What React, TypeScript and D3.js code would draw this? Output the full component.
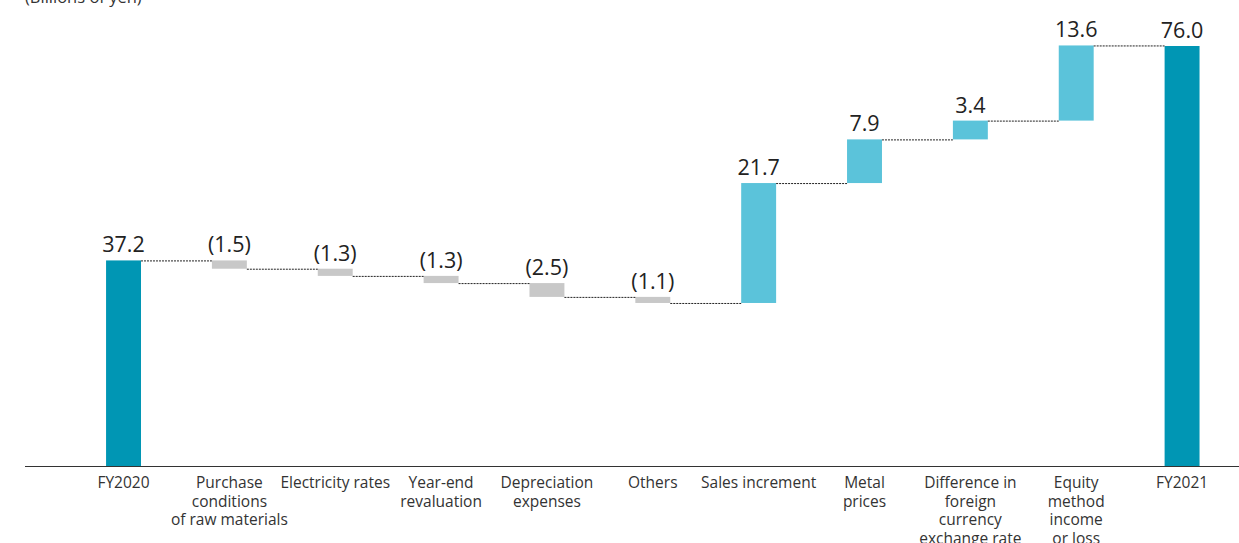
import React from "react";
import * as d3 from "d3";

const categories: string[][] = [
  ["FY2020"],
  ["Purchase", "conditions", "of raw materials"],
  ["Electricity rates"],
  ["Year-end", "revaluation"],
  ["Depreciation", "expenses"],
  ["Others"],
  ["Sales increment"],
  ["Metal", "prices"],
  ["Difference in", "foreign", "currency", "exchange rate"],
  ["Equity", "method", "income", "or loss"],
  ["FY2021"],
];
const values: number[] = [37.2, -1.5, -1.3, -1.3, -2.5, -1.1, 21.7, 7.9, 3.4, 13.6, 76.0];
const kinds: string[] = ["total", "delta", "delta", "delta", "delta", "delta", "delta", "delta", "delta", "delta", "total"];
const valueLabels: string[] = ["37.2", "(1.5)", "(1.3)", "(1.3)", "(2.5)", "(1.1)", "21.7", "7.9", "3.4", "13.6", "76.0"];
const unitLabel = "(Billions of yen)";

const W = 1239;
const H = 543;
const baseY = 466;
const topY = 46;

export default function App() {
  const x = d3
    .scaleBand<number>()
    .domain(d3.range(categories.length))
    .range([70.6, 1235.0])
    .paddingInner(0.67)
    .paddingOuter(0.335);
  const y = d3.scaleLinear().domain([0, 76]).range([baseY, topY]);

  let run = 0;
  const bars = values.map((v, i) => {
    let start: number, end: number;
    if (kinds[i] === "total") {
      start = 0;
      end = v;
      run = v;
    } else {
      start = run;
      end = run + v;
      run = end;
    }
    return { i, start, end, level: end, v };
  });

  const bw = x.bandwidth();
  const font = "'Open Sans', 'Noto Sans', sans-serif";

  return (
    <div style={{ position: "absolute", left: 0, top: 0 }}>
      <svg width={W} height={H} style={{ display: "block" }}>
        <text x={25} y={3} fontFamily={font} fontSize={16.5} fill="#333">
          {unitLabel}
        </text>
        {bars.map((b) => {
          const x0 = x(b.i)!;
          const yTop = y(Math.max(b.start, b.end));
          const yBot = y(Math.min(b.start, b.end));
          const color =
            kinds[b.i] === "total" ? "#0096b4" : b.v < 0 ? "#c8c8c8" : "#5bc3da";
          return (
            <g key={b.i}>
              <rect x={x0} y={yTop} width={bw} height={Math.max(yBot - yTop, 0)} fill={color} />
              <text
                x={x0 + bw / 2}
                y={yTop - 8}
                textAnchor="middle"
                fontFamily={font}
                fontSize={21.5}
                fill="#222"
              >
                {valueLabels[b.i]}
              </text>
            </g>
          );
        })}
        {bars.slice(0, -1).map((b) => {
          const x1 = x(b.i)! + bw;
          const x2 = x(b.i + 1)!;
          const yy = y(b.level) + 0.5;
          return (
            <line
              key={"c" + b.i}
              x1={x1}
              x2={x2}
              y1={yy}
              y2={yy}
              stroke="#222"
              strokeWidth={1}
              strokeDasharray="2 1"
            />
          );
        })}
        <line x1={25} x2={W} y1={baseY + 0.5} y2={baseY + 0.5} stroke="#333" strokeWidth={1.2} />
        {categories.map((lines, i) => (
          <text
            key={"l" + i}
            x={x(i)! + bw / 2}
            y={488}
            textAnchor="middle"
            fontFamily={font}
            fontSize={15.5}
            fill="#333"
          >
            {lines.map((ln, j) => (
              <tspan key={j} x={x(i)! + bw / 2} dy={j === 0 ? 0 : 18.5}>
                {ln}
              </tspan>
            ))}
          </text>
        ))}
      </svg>
    </div>
  );
}
